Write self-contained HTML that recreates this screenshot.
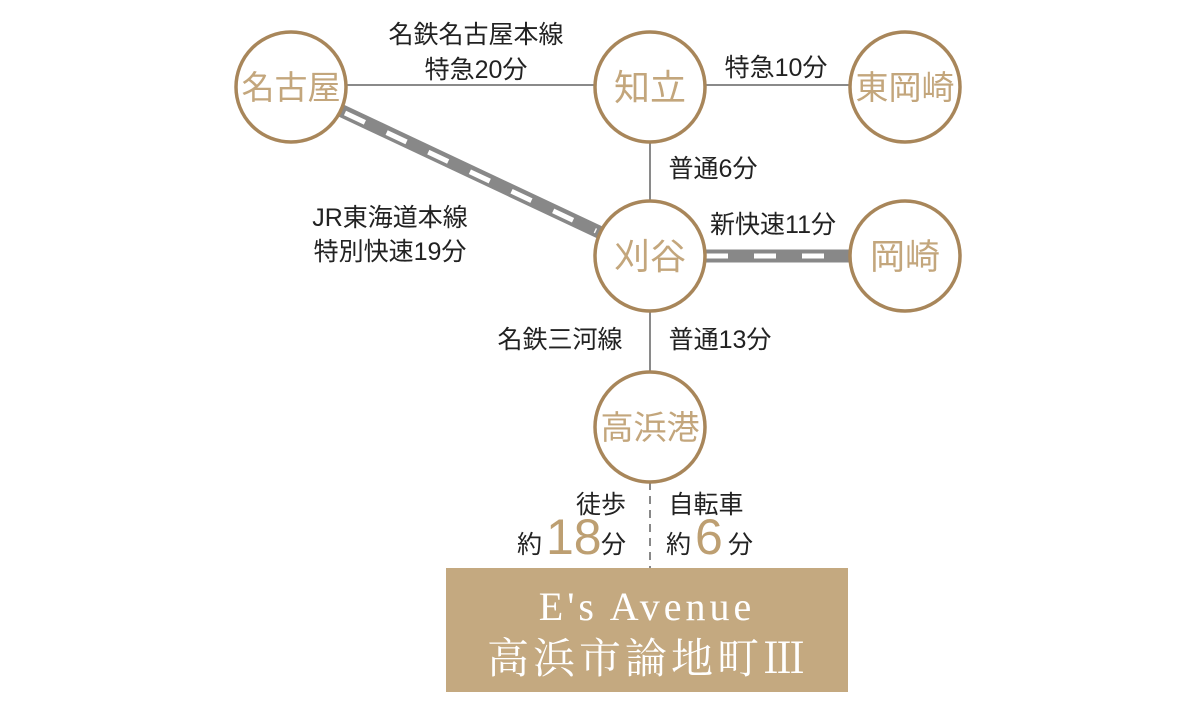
<!DOCTYPE html>
<html><head><meta charset="utf-8"><style>
html,body{margin:0;padding:0;background:#fff;width:1200px;height:712px;overflow:hidden}
svg text{font-family:"Liberation Sans","Noto Sans CJK JP",sans-serif}
</style></head><body>
<svg width="1200" height="712" viewBox="0 0 1200 712" xmlns="http://www.w3.org/2000/svg">
<g stroke="#8a8a8a" stroke-width="2" fill="none">
<line x1="291" y1="85" x2="905" y2="85"/>
<line x1="650" y1="87" x2="650" y2="427"/>
</g>
<line x1="650" y1="482" x2="650" y2="568" stroke="#888" stroke-width="2" stroke-dasharray="8,6"/>
<line x1="291" y1="87" x2="650" y2="256" stroke="#888" stroke-width="13"/>
<line x1="345" y1="113" x2="596" y2="231" stroke="#fff" stroke-width="5" stroke-dasharray="22,24"/>
<line x1="650" y1="256" x2="905" y2="256" stroke="#888" stroke-width="13"/>
<line x1="706" y1="256" x2="850" y2="256" stroke="#fff" stroke-width="5" stroke-dasharray="22,26"/>
<g fill="#fff" stroke="#a8865a" stroke-width="3.5">
<circle cx="291" cy="87" r="55"/><circle cx="650" cy="87" r="55"/><circle cx="905" cy="87" r="55"/>
<circle cx="650" cy="256" r="55"/><circle cx="905" cy="256" r="55"/><circle cx="650" cy="427" r="55"/>
</g>
<g fill="#c3a67c" font-size="33" text-anchor="middle">
<text x="291" y="99">名古屋</text><text x="650" y="100" font-size="36">知立</text><text x="905" y="99">東岡崎</text>
<text x="650" y="269" font-size="36">刈谷</text><text x="905" y="269" font-size="35">岡崎</text><text x="650" y="439">高浜港</text>
</g>
<g fill="#222" font-size="25" text-anchor="middle">
<text x="476" y="43">名鉄名古屋本線</text><text x="476" y="78">特急20分</text>
<text x="776" y="76">特急10分</text>
<text x="713" y="177">普通6分</text>
<text x="773" y="233">新快速11分</text>
<text x="390" y="226">JR東海道本線</text><text x="390" y="260">特別快速19分</text>
<text x="560" y="348">名鉄三河線</text><text x="720" y="348">普通13分</text>
<text x="601" y="513">徒歩</text><text x="706" y="513">自転車</text>
</g>
<g fill="#222" font-size="25">
<text x="517" y="553">約</text><text x="601" y="553">分</text>
<text x="666" y="553">約</text><text x="728" y="553">分</text>
</g>
<g fill="#bd9f72" font-size="50">
<text x="546" y="554">18</text><text x="695" y="554">6</text>
</g>
<rect x="446" y="568" width="402" height="124" fill="#c4a980"/>
<g fill="#fff" text-anchor="middle">
<text x="647" y="620" font-size="40" letter-spacing="4" style="font-family:'Liberation Serif','Noto Serif CJK SC',serif">E's Avenue</text>
<text x="648" y="673" font-size="42" letter-spacing="4" style="font-family:'Liberation Serif','Noto Serif CJK SC',serif">高浜市論地町Ⅲ</text>
</g>
</svg>
</body></html>
